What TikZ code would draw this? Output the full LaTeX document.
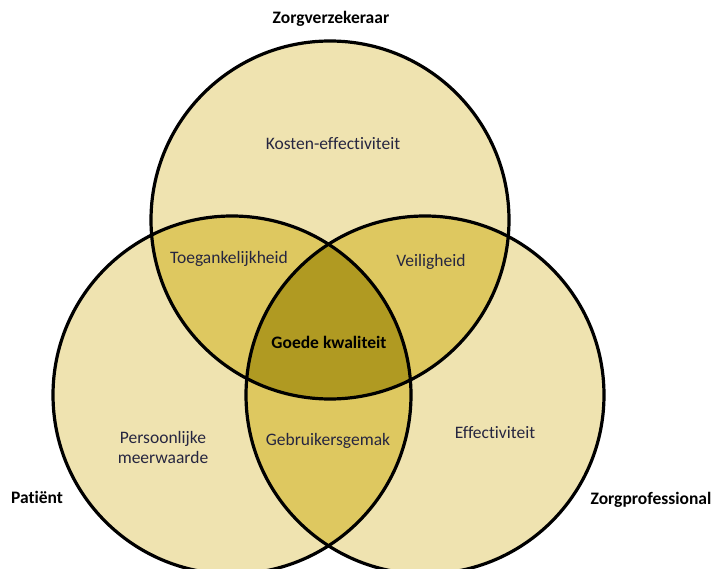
\documentclass[tikz,border=0pt]{standalone}
\usepackage{fontspec}
\setmainfont[RawFeature={-liga;-clig;-dlig}]{Carlito}
\definecolor{lightfill}{HTML}{EFE3B0}
\definecolor{midfill}{HTML}{DEC860}
\definecolor{darkfill}{HTML}{B09A22}
\definecolor{txt}{HTML}{262640}
\begin{document}
\begin{tikzpicture}[x=1pt,y=-1pt,
  lbl/.style={font=\fontsize{17.5}{20}\selectfont, text=txt, align=center, inner sep=0pt},
  blbl/.style={font=\fontsize{17.5}{20}\selectfont\bfseries, text=black, align=center, inner sep=0pt},
  ring/.style={line width=3.2pt, draw=black}]
\useasboundingbox (0,0) rectangle (712,569);
\clip (0,0) rectangle (712,569);
\def\rad{179}
\coordinate (cT) at (330,220);
\coordinate (cL) at (232,395);
\coordinate (cR) at (425,395);
% light fills
\fill[lightfill] (cT) circle (\rad);
\fill[lightfill] (cL) circle (\rad);
\fill[lightfill] (cR) circle (\rad);
% pairwise overlaps
\begin{scope}\clip (cT) circle (\rad); \fill[midfill] (cL) circle (\rad); \end{scope}
\begin{scope}\clip (cT) circle (\rad); \fill[midfill] (cR) circle (\rad); \end{scope}
\begin{scope}\clip (cL) circle (\rad); \fill[midfill] (cR) circle (\rad); \end{scope}
% triple overlap
\begin{scope}\clip (cT) circle (\rad); \clip (cL) circle (\rad); \fill[darkfill] (cR) circle (\rad); \end{scope}
% outlines
\draw[ring] (cT) circle (\rad);
\draw[ring] (cL) circle (\rad);
\draw[ring] (cR) circle (\rad);
% labels
\node[blbl] (zv) at (331,19) {Zorgverzekeraar};
\node[blbl] (pt) at (37,497) {Patiënt};
\node[blbl] (zp) at (651,500) {Zorgprofessional};
\node[lbl] (ke) at (333,144) {Kosten-effectiviteit};
\node[lbl] (tg) at (229,259) {Toegankelijkheid};
\node[lbl] (vh) at (431,262) {Veiligheid};
\node[blbl] (gk) at (329,342) {Goede kwaliteit};
\node[lbl] (pm) at (163,447) {Persoonlijke\\meerwaarde};
\node[lbl] (gg) at (328,441) {Gebruikersgemak};
\node[lbl] (ef) at (495,433) {Effectiviteit};
\end{tikzpicture}
\end{document}
